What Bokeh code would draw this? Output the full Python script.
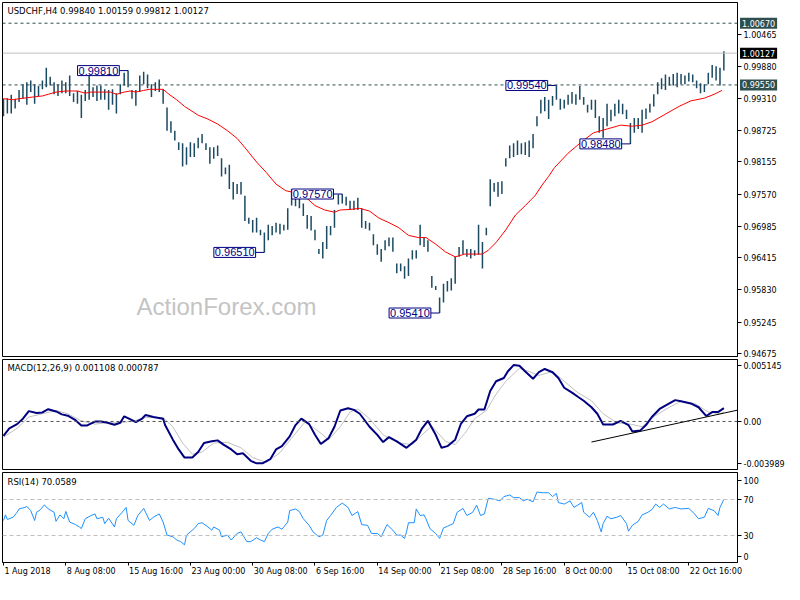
from bokeh.plotting import figure
from bokeh.models import Range1d, FixedTicker, Label, Span, PrintfTickFormatter, LinearAxis, AllLabels
from bokeh.layouts import column
from bokeh.embed import file_html
from bokeh.resources import INLINE

# ---------------- data (H4 bars, every second bar) ----------------
bar_high = [
    0.9930, 0.9931, 0.9937, 0.9930, 0.9946, 0.9956, 0.9960, 0.9963, 0.9956, 0.9953,
    0.9963, 0.9986, 0.9970, 0.9960, 0.9956, 0.9963, 0.9960, 0.9972, 0.9940, 0.9944,
    0.9937, 0.9946, 0.9974, 0.9951, 0.9954, 0.9954, 0.9947, 0.9946, 0.9947, 0.9940,
    0.9956, 0.9977, 0.9981, 0.9946, 0.9946, 0.9972, 0.9979, 0.9974, 0.9956, 0.9960,
    0.9965, 0.9947, 0.9914, 0.9889, 0.9872, 0.9851, 0.9849, 0.9842, 0.9851, 0.9849,
    0.9859, 0.9866, 0.9849, 0.9842, 0.9842, 0.9845, 0.9822, 0.9805, 0.9810, 0.9779,
    0.9775, 0.9779, 0.9754, 0.9714, 0.9710, 0.9714, 0.9692, 0.9687, 0.9701, 0.9699,
    0.9705, 0.9703, 0.9701, 0.9731, 0.9766, 0.9761, 0.9754, 0.9740, 0.9719, 0.9717,
    0.9692, 0.9657, 0.9670, 0.9699, 0.9699, 0.9728, 0.9756, 0.9757, 0.9752, 0.9745,
    0.9745, 0.9750, 0.9731, 0.9708, 0.9705, 0.9684, 0.9666, 0.9657, 0.9673, 0.9678,
    0.9678, 0.9631, 0.9631, 0.9626, 0.9640, 0.9655, 0.9655, 0.9701, 0.9678, 0.9673,
    0.9608, 0.9590, 0.9569, 0.9594, 0.9599, 0.9604, 0.9643, 0.9661, 0.9673, 0.9657,
    0.9657, 0.9655, 0.9701, 0.9670, 0.9696, 0.9784, 0.9777, 0.9779, 0.9780, 0.9822,
    0.9845, 0.9849, 0.9854, 0.9849, 0.9851, 0.9854, 0.9866, 0.9898, 0.9928, 0.9933,
    0.9928, 0.9935, 0.9954, 0.9930, 0.9928, 0.9937, 0.9942, 0.9938, 0.9953, 0.9933,
    0.9919, 0.9928, 0.9928, 0.9898, 0.9895, 0.9921, 0.9910, 0.9921, 0.9928, 0.9921,
    0.9910, 0.9886, 0.9895, 0.9895, 0.9910, 0.9912, 0.9921, 0.9938, 0.9960, 0.9967,
    0.9974, 0.9970, 0.9975, 0.9977, 0.9975, 0.9972, 0.9977, 0.9974, 0.9963, 0.9958,
    0.9956, 0.9977, 0.9991, 0.9989, 0.9986, 1.00159,
]
bar_low = [
    0.9898, 0.9903, 0.9903, 0.9912, 0.9924, 0.9930, 0.9919, 0.9942, 0.9921, 0.9935,
    0.9947, 0.9951, 0.9954, 0.9938, 0.9935, 0.9940, 0.9940, 0.9935, 0.9924, 0.9921,
    0.9895, 0.9926, 0.9928, 0.9933, 0.9926, 0.9928, 0.9928, 0.9910, 0.9919, 0.9903,
    0.9938, 0.9954, 0.9951, 0.9930, 0.9917, 0.9942, 0.9956, 0.9949, 0.9933, 0.9944,
    0.9942, 0.9921, 0.9872, 0.9868, 0.9854, 0.9837, 0.9807, 0.9810, 0.9824, 0.9824,
    0.9840, 0.9849, 0.9837, 0.9812, 0.9821, 0.9826, 0.9789, 0.9793, 0.9766, 0.9747,
    0.9757, 0.9756, 0.9708, 0.9703, 0.9687, 0.9687, 0.9682, 0.9651, 0.9673, 0.9682,
    0.9687, 0.9684, 0.9691, 0.9692, 0.9736, 0.9735, 0.9731, 0.9717, 0.9694, 0.9691,
    0.9673, 0.9648, 0.9640, 0.9657, 0.9682, 0.9696, 0.9738, 0.9740, 0.9736, 0.9728,
    0.9728, 0.9728, 0.9696, 0.9694, 0.9691, 0.9664, 0.9647, 0.9634, 0.9655, 0.9662,
    0.9652, 0.9613, 0.9617, 0.9603, 0.9608, 0.9638, 0.9640, 0.9664, 0.9661, 0.9652,
    0.9587, 0.9583, 0.9541, 0.9560, 0.9580, 0.9582, 0.9594, 0.9643, 0.9648, 0.9643,
    0.9640, 0.9645, 0.9647, 0.9622, 0.9682, 0.9735, 0.9761, 0.9752, 0.9757, 0.9807,
    0.9822, 0.9824, 0.9828, 0.9829, 0.9828, 0.9824, 0.9840, 0.9880, 0.9903, 0.9907,
    0.9893, 0.9917, 0.9928, 0.9910, 0.9912, 0.9919, 0.9921, 0.9919, 0.9928, 0.9919,
    0.9905, 0.9910, 0.9895, 0.9868, 0.9859, 0.9880, 0.9889, 0.9898, 0.9903, 0.9902,
    0.9893, 0.9848, 0.9868, 0.9875, 0.9868, 0.9893, 0.9905, 0.9916, 0.9938, 0.9947,
    0.9946, 0.9954, 0.9954, 0.9951, 0.9956, 0.9956, 0.9961, 0.9960, 0.9949, 0.9940,
    0.9942, 0.9956, 0.9968, 0.9963, 0.9954, 0.99812,
]
bar_idx = list(range(0, 2 * len(bar_high), 2))   # H4 bar number from 1 Aug 2018 00:00

ma_pts = [
    (0, 0.9930), (5, 0.9928), (8, 0.9930), (15, 0.9933), (20, 0.9935), (23, 0.9938), (27, 0.9942),
    (32, 0.9944), (38, 0.9944), (42, 0.9940), (45, 0.9942), (55, 0.9942), (58, 0.9938), (62, 0.9942),
    (65, 0.9944), (68, 0.9942), (72, 0.9945), (75, 0.9947), (82, 0.9947), (85, 0.9938), (89, 0.9928),
    (93, 0.9916), (100, 0.9900), (105, 0.9893), (110, 0.9884), (115, 0.9872), (120, 0.9858),
    (125, 0.9837), (130, 0.9815), (135, 0.9796), (140, 0.9775), (145, 0.9763), (150, 0.9759),
    (155, 0.9752), (160, 0.9736), (165, 0.9728), (170, 0.9724), (173, 0.9728), (178, 0.9729),
    (183, 0.9731), (188, 0.9726), (193, 0.9713), (198, 0.9705), (203, 0.9696), (208, 0.9682),
    (213, 0.9678), (217, 0.9678), (222, 0.9666), (227, 0.9652), (232, 0.9643), (237, 0.9648),
    (242, 0.9648), (246, 0.9648), (249, 0.9655), (253, 0.9669), (258, 0.9692), (263, 0.9719),
    (268, 0.9736), (273, 0.9754), (277, 0.9775), (280, 0.9789), (283, 0.9805), (290, 0.9831),
    (297, 0.9852), (303, 0.9868), (310, 0.9875), (317, 0.9882), (323, 0.9880), (328, 0.9882),
    (333, 0.9888), (340, 0.9902), (347, 0.9916), (353, 0.9926), (360, 0.9931), (365, 0.9938),
    (369, 0.9945),
]

macd_pts = [
    (0, -0.00119), (3, -0.00057), (7, -0.00022), (10, 0.00023), (13, 0.00086), (17, 0.00070),
    (20, 0.00075), (23, 0.00102), (27, 0.00083), (30, 0.00059), (33, 0.00048), (37, 0.00011),
    (40, -0.00033), (43, -0.00033), (47, -0.00001), (50, -0.00001), (53, -0.00009), (57, -0.00027),
    (60, -0.00011), (62, 0.00043), (65, 0.00019), (68, -0.00006), (71, 0.00021), (73, 0.00053),
    (77, 0.00037), (82, 0.00023), (83, -0.00030), (87, -0.00151), (90, -0.00232), (93, -0.00300),
    (97, -0.00300), (100, -0.00254), (103, -0.00179), (107, -0.00165), (110, -0.00157), (113, -0.00192),
    (117, -0.00232), (120, -0.00272), (123, -0.00264), (127, -0.00327), (130, -0.00348), (133, -0.00348),
    (137, -0.00313), (140, -0.00232), (143, -0.00205), (147, -0.00124), (150, -0.00030), (153, 0.00023),
    (157, -0.00022), (160, -0.00111), (163, -0.00187), (167, -0.00138), (170, -0.00044), (173, 0.00091),
    (177, 0.00110), (180, 0.00096), (183, 0.00064), (188, -0.00044), (192, -0.00111), (195, -0.00171),
    (198, -0.00130), (202, -0.00165), (207, -0.00219), (212, -0.00151), (215, -0.00057), (218, 0.00005),
    (222, -0.00111), (225, -0.00219), (228, -0.00205), (232, -0.00151), (235, -0.00017), (238, 0.00043),
    (242, 0.00064), (244, 0.00099), (247, 0.00099), (250, 0.00253), (253, 0.00334), (257, 0.00361),
    (259, 0.00415), (262, 0.00468), (265, 0.00463), (268, 0.00415), (272, 0.00355), (275, 0.00409),
    (278, 0.00436), (282, 0.00409), (285, 0.00361), (288, 0.00280), (292, 0.00239), (295, 0.00205),
    (298, 0.00172), (302, 0.00118), (305, 0.00064), (308, -0.00025), (313, -0.00025), (317, 0.00005),
    (321, -0.00030), (323, -0.00084), (327, -0.00076), (330, -0.00030), (333, 0.00037), (337, 0.00104),
    (342, 0.00150), (345, 0.00177), (348, 0.00167), (353, 0.00150), (357, 0.00118), (361, 0.00045),
    (364, 0.00078), (367, 0.00078), (370, 0.001108),
]

signal_pts = [
    (0, -0.00130), (7, -0.00057), (13, 0.00037), (20, 0.00064), (27, 0.00091), (33, 0.00064),
    (40, 0.00005), (47, -0.00022), (53, -0.00011), (60, -0.00011), (67, 0.00005), (73, 0.00032),
    (82, 0.00032), (87, -0.00044), (92, -0.00179), (97, -0.00272), (102, -0.00254), (108, -0.00179),
    (115, -0.00173), (122, -0.00219), (128, -0.00300), (135, -0.00340), (142, -0.00259), (148, -0.00138),
    (155, -0.00003), (162, -0.00084), (167, -0.00151), (173, -0.00044), (178, 0.00078), (182, 0.00104),
    (188, 0.00023), (195, -0.00111), (198, -0.00138), (203, -0.00179), (210, -0.00192), (215, -0.00111),
    (220, -0.00038), (227, -0.00165), (232, -0.00192), (237, -0.00098), (242, 0.00023), (248, 0.00091),
    (253, 0.00226), (258, 0.00334), (265, 0.00441), (270, 0.00415), (275, 0.00382), (282, 0.00415),
    (288, 0.00334), (295, 0.00239), (302, 0.00172), (308, 0.00064), (315, -0.00011), (322, -0.00022),
    (328, -0.00044), (335, 0.00051), (342, 0.00118), (348, 0.00167), (355, 0.00150), (362, 0.00078),
    (368, 0.00064), (370, 0.000787),
]

rsi_pts = [
    (0, 46.7), (1, 52.9), (2, 47.8), (5, 50.3), (7, 55.8), (8, 59.5), (11, 61.2), (12, 62.3), (14, 57.6),
    (16, 46.7), (17, 55.8), (19, 58.7), (21, 64.1), (23, 59.5), (26, 55.8), (27, 45.7), (29, 52.9),
    (31, 48.6), (32, 56.8), (34, 44.9), (37, 42.1), (39, 39.5), (40, 37.7), (42, 48.6), (45, 52.2),
    (47, 54.0), (48, 48.6), (51, 50.3), (52, 43.2), (54, 49.2), (57, 39.5), (58, 48.6), (61, 55.8),
    (63, 61.2), (64, 46.7), (67, 41.3), (69, 52.2), (72, 60.1), (73, 55.8), (75, 46.7), (77, 50.3),
    (80, 54.0), (82, 44.9), (84, 30.4), (87, 28.6), (89, 25.0), (91, 23.2), (93, 19.6), (94, 30.4),
    (97, 35.9), (98, 37.7), (100, 43.2), (102, 44.2), (105, 39.5), (107, 35.9), (108, 39.5), (111, 35.9),
    (112, 28.6), (115, 30.4), (117, 25.0), (120, 32.3), (122, 34.0), (125, 23.2), (127, 23.2), (130, 27.5),
    (132, 25.0), (134, 23.2), (136, 32.3), (138, 37.0), (141, 39.5), (143, 37.0), (146, 44.9), (147, 57.6),
    (150, 59.5), (152, 56.5), (154, 48.6), (157, 41.3), (159, 34.0), (162, 28.6), (164, 30.4), (166, 46.7),
    (168, 52.2), (171, 61.2), (174, 66.0), (177, 61.2), (179, 52.2), (182, 56.5), (184, 42.1), (187, 41.3),
    (189, 32.3), (192, 32.3), (194, 28.6), (197, 42.1), (200, 35.9), (202, 30.4), (204, 30.4), (206, 26.8),
    (207, 34.0), (208, 44.2), (211, 44.2), (212, 59.5), (214, 52.2), (216, 52.9), (217, 48.6), (219, 37.7),
    (222, 32.3), (224, 26.8), (226, 38.4), (228, 40.2), (231, 43.2), (233, 55.8), (236, 60.1), (238, 52.2),
    (241, 55.8), (243, 63.8), (245, 52.2), (247, 54.0), (249, 71.4), (252, 70.3), (255, 68.5), (257, 73.2),
    (260, 75.0), (262, 72.1), (265, 72.1), (267, 68.5), (269, 70.3), (272, 67.4), (274, 78.3), (277, 77.5),
    (280, 77.5), (282, 73.2), (284, 76.8), (285, 66.6), (288, 64.9), (291, 68.5), (293, 61.2), (297, 66.6),
    (298, 55.8), (301, 50.3), (303, 55.8), (305, 46.7), (307, 34.0), (308, 43.2), (310, 51.4), (312, 48.6),
    (315, 50.3), (317, 52.2), (320, 43.2), (321, 34.8), (323, 41.3), (326, 45.7), (328, 52.9), (331, 55.8),
    (333, 58.7), (335, 64.9), (337, 61.2), (339, 64.9), (342, 59.5), (345, 61.2), (348, 59.5), (352, 60.1),
    (355, 54.0), (357, 48.6), (360, 50.3), (362, 60.1), (365, 57.6), (367, 52.2), (368, 61.2), (370, 70.0589),
]

# swing-point marks (bar number, price)
mark_idx = [64, 134, 174, 224, 284, 322]
mark_val = [0.99810, 0.96510, 0.97570, 0.95410, 0.99540, 0.98480]

# horizontal levels
level_val = [1.00670, 0.99550]
bid_val = 1.00127
# MACD trend line (bar number, value)
trend_idx = [302, 377]
trend_val = [-0.00171, 0.00094]

price_ticks = [1.00465, 0.99880, 0.99310, 0.98725, 0.98155, 0.97570, 0.96985, 0.96415, 0.95830, 0.95245, 0.94675]
time_tick_idx = [0, 32, 64, 96, 128, 160, 192, 224, 256, 288, 320, 352]
time_labels = ["1 Aug 2018", "8 Aug 08:00", "15 Aug 16:00", "23 Aug 00:00", "30 Aug 08:00", "6 Sep 16:00",
               "14 Sep 00:00", "21 Sep 08:00", "28 Sep 16:00", "8 Oct 00:00", "15 Oct 08:00", "22 Oct 16:00"]
macd_tick_pos = [0.00465, 0.0, -0.00349]
macd_tick_txt = ["0.005145", "0.00", "-0.003989"]
rsi_tick_pos = [91.0, 70.0, 30.0, 7.0]
rsi_tick_txt = ["100", "70", "30", "0"]

# ---------------- styling ----------------
FW = 735
X0, X1 = -0.5, 377
AXF = "DejaVu Sans"
BAR_C = "#1b4a62"
SLATE = "#2f4f4f"
NAVY = "#000080"
px_per_bar = FW / (X1 - X0)

xr = Range1d(X0, X1)


def style_axis(ax):
    ax.axis_line_color = "black"
    ax.major_tick_in = 0
    ax.major_tick_out = 4
    ax.major_tick_line_color = "black"
    ax.minor_tick_line_color = None
    ax.major_label_standoff = 2
    ax.major_label_text_font = AXF
    ax.major_label_text_font_size = "8px"
    ax.major_label_text_color = "black"
    ax.major_label_policy = AllLabels()


def base(fh, yr, top, bottom, xaxis=False):
    p = figure(frame_width=FW, frame_height=fh, x_range=xr, y_range=yr,
               output_backend="svg", toolbar_location=None,
               x_axis_location="below" if xaxis else None, y_axis_location="right",
               min_border_left=2, min_border_right=47, min_border_top=top, min_border_bottom=bottom)
    p.grid.visible = False
    p.outline_line_color = "black"
    p.outline_line_width = 1
    p.outline_line_alpha = 1
    p.background_fill_color = "white"
    p.border_fill_color = "white"
    for ax in p.axis:
        style_axis(ax)
    return p


# ---------- price panel ----------
PH = 354
p1 = base(PH, Range1d(0.94621, 1.01046), 2, 2)
p1.yaxis[0].ticker = FixedTicker(ticks=price_ticks)
p1.yaxis[0].formatter = PrintfTickFormatter(format="%.5f")

for lv in level_val:
    p1.add_layout(Span(location=lv, dimension="width", line_color=SLATE, line_dash="3 3", line_width=1))
p1.add_layout(Span(location=bid_val, dimension="width", line_color="#c0c0c0", line_width=1))

p1.segment(x0=bar_idx, y0=bar_low, x1=bar_idx, y1=bar_high, line_color=BAR_C, line_width=1.5)
p1.line([a for a, b in ma_pts], [b for a, b in ma_pts], line_color="red", line_width=1)

p1.segment(x0=[i - 4.5 for i in mark_idx], y0=mark_val, x1=mark_idx, y1=mark_val,
           line_color=NAVY, line_width=1)
for i, v in zip(mark_idx, mark_val):
    p1.add_layout(Label(x=i - 4.5, y=v, text=f"{v:.5f}", text_align="right", text_baseline="middle",
                        text_color=NAVY, text_font="Liberation Sans", text_font_size="11px",
                        background_fill_color="white", border_line_color=NAVY, border_line_width=1,
                        padding=1))

# highlighted price-scale boxes, placed in the right side panel (next to the price scale)
for v, bg in zip(level_val + [bid_val], [SLATE, SLATE, "black"]):
    p1.add_layout(Label(x=X1 + 1.3, y=v, x_units="data", y_units="data", text=f"{v:.5f}",
                        text_align="left", text_baseline="middle", text_color="white",
                        text_font=AXF, text_font_size="8px", background_fill_color=bg,
                        padding=2), "right")

p1.add_layout(Label(x=5, y=PH - 8, x_units="screen", y_units="screen",
                    text="USDCHF,H4  0.99840 1.00159 0.99812 1.00127", text_font=AXF,
                    text_font_size="8.5px", text_baseline="middle", text_color="black"))
p1.add_layout(Label(x=134, y=50, x_units="screen", y_units="screen", text="ActionForex.com",
                    text_font="Liberation Sans", text_font_size="24px", text_color="#c4c4c4",
                    text_baseline="alphabetic"))

# ---------- MACD panel ----------
MH = 110
p2 = base(MH, Range1d(-0.003989, 0.005145), 1, 1)
p2.yaxis[0].ticker = FixedTicker(ticks=macd_tick_pos)
p2.yaxis[0].major_label_overrides = dict(zip(macd_tick_pos, macd_tick_txt))
p2.add_layout(Span(location=0, dimension="width", line_color="#505050", line_dash="3 3", line_width=1))
p2.line([a for a, b in signal_pts], [b for a, b in signal_pts], line_color="#c0c0c0", line_width=1)
p2.line([a for a, b in macd_pts], [b for a, b in macd_pts], line_color=NAVY, line_width=2)
p2.line(trend_idx, trend_val, line_color="black", line_width=1)
p2.add_layout(Label(x=5, y=MH - 8, x_units="screen", y_units="screen",
                    text="MACD(12,26,9) 0.001108 0.000787", text_font=AXF,
                    text_font_size="8.5px", text_baseline="middle", text_color="black"))

# ---------- RSI panel ----------
RH = 90
p3 = base(RH, Range1d(0, 100), 2, 16, xaxis=True)
p3.yaxis[0].ticker = FixedTicker(ticks=rsi_tick_pos)
p3.yaxis[0].major_label_overrides = dict(zip(rsi_tick_pos, rsi_tick_txt))

# time axis: tick marks at bar positions, labels start at the tick (left aligned look)
xa = p3.xaxis[0]
xa.ticker = FixedTicker(ticks=time_tick_idx)
xa.major_label_text_font_size = "0px"
xa.major_label_text_alpha = 0
xa.major_label_standoff = 0
xa.major_tick_out = 3

CW = {"0": .636, "1": .636, "2": .636, "3": .636, "4": .636, "5": .636, "6": .636, "7": .636,
      "8": .636, "9": .636, " ": .318, ":": .337, "A": .684, "u": .634, "g": .635, "S": .635,
      "e": .615, "p": .635, "O": .787, "c": .550, "t": .392}
label_pos = [t + (sum(CW.get(ch, .6) for ch in s) * 8 / 2 + 1) / px_per_bar
             for t, s in zip(time_tick_idx, time_labels)]
xb = LinearAxis(ticker=FixedTicker(ticks=label_pos),
                major_label_overrides=dict(zip(label_pos, time_labels)))
style_axis(xb)
xb.axis_line_color = None
xb.major_tick_out = 0
xb.major_label_standoff = 1
p3.add_layout(xb, "below")

for lv in (70, 30):
    p3.add_layout(Span(location=lv, dimension="width", line_color="#c0c0c0", line_dash="4 3", line_width=1))
p3.line([a for a, b in rsi_pts], [b for a, b in rsi_pts], line_color="#1e90ff", line_width=1)
p3.add_layout(Label(x=5, y=RH - 9, x_units="screen", y_units="screen",
                    text="RSI(14) 70.0589", text_font=AXF,
                    text_font_size="8.5px", text_baseline="middle", text_color="black"))

layout = column(p1, p2, p3, spacing=0)
open("out.html", "w").write(file_html(layout, INLINE))
